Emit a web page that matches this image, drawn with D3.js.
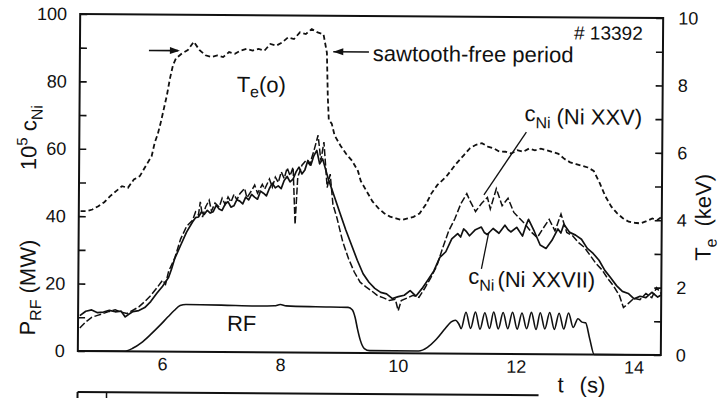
<!DOCTYPE html>
<html>
<head>
<meta charset="utf-8">
<script src="https://cdn.jsdelivr.net/npm/d3@7"></script>
<style>
  body { margin: 0; background: #fff; }
  svg { display: block; }
  text { font-family: "Liberation Sans", Arial, sans-serif; fill: #111; }
</style>
</head>
<body>
<svg id="chart" width="723" height="398"></svg>
<script>
// Shot #13392: nickel concentration from two lines, central Te and RF power vs time

// c_Ni from Ni XXVII (solid), [t (s), 1e5 c_Ni]
const niXXVII = [[4.6,10.5],[4.7,11.8],[4.8,12.2],[4.9,11.4],[5.0,11.6],[5.1,12.1],[5.2,11.7],[5.3,11.9],[5.37,10.2],[5.43,11.0],[5.5,11.8],[5.6,12.1],[5.7,13.0],[5.8,14.8],[5.9,17.2],[6.0,19.4],[6.1,22.0],[6.15,24.5],[6.2,27.5],[6.3,31.5],[6.4,35.5],[6.5,38.5],[6.55,39.8],[6.6,40.0],[6.65,41.5],[6.7,40.8],[6.75,42.0],[6.8,41.2],[6.85,41.6],[6.9,43.5],[6.95,42.4],[7.0,42.0],[7.05,43.8],[7.1,44.6],[7.15,43.0],[7.2,43.4],[7.25,45.2],[7.3,44.8],[7.35,44.0],[7.4,46.0],[7.45,45.2],[7.5,46.8],[7.55,46.0],[7.6,45.4],[7.65,47.8],[7.7,47.2],[7.75,46.4],[7.8,48.6],[7.85,50.2],[7.9,48.8],[7.95,49.4],[8.0,48.6],[8.05,51.0],[8.1,52.2],[8.15,50.6],[8.2,51.4],[8.25,53.6],[8.3,55.0],[8.35,53.0],[8.4,54.2],[8.45,57.0],[8.5,55.6],[8.55,58.4],[8.6,60.0],[8.65,56.0],[8.7,57.5],[8.8,51.5],[8.9,46.5],[9.0,41.5],[9.1,36.5],[9.2,32.0],[9.3,27.5],[9.4,23.5],[9.5,21.0],[9.6,19.2],[9.7,18.0],[9.8,17.6],[9.9,16.2],[10.0,16.8],[10.1,17.2],[10.2,18.6],[10.3,17.0],[10.4,19.2],[10.5,21.8],[10.6,24.5],[10.7,28.5],[10.8,30.2],[10.9,34.0],[11.0,35.6],[11.05,34.6],[11.1,37.0],[11.15,36.2],[11.2,35.0],[11.3,36.8],[11.4,37.6],[11.45,36.0],[11.5,35.4],[11.6,37.2],[11.7,35.8],[11.8,38.2],[11.85,37.0],[11.9,36.2],[12.0,37.6],[12.1,35.0],[12.15,37.8],[12.2,40.0],[12.3,36.4],[12.4,32.4],[12.5,31.4],[12.6,33.8],[12.7,37.2],[12.75,36.0],[12.8,38.6],[12.9,36.2],[13.0,35.4],[13.1,34.2],[13.2,31.5],[13.3,30.0],[13.4,28.0],[13.5,25.0],[13.6,22.8],[13.7,20.5],[13.8,18.8],[13.9,18.2],[14.0,16.6],[14.1,17.4],[14.2,17.0],[14.3,18.6],[14.4,17.2],[14.46,17.8]];

// c_Ni from Ni XXV (dashed), [t (s), 1e5 c_Ni]
const niXXV = [[4.6,6.8],[4.7,8.6],[4.8,10.0],[4.9,10.6],[5.0,11.2],[5.1,11.8],[5.2,12.3],[5.3,11.6],[5.4,11.2],[5.5,12.2],[5.6,13.2],[5.7,14.8],[5.8,16.6],[5.9,18.8],[6.0,21.2],[6.05,20.0],[6.1,23.8],[6.2,27.6],[6.3,33.4],[6.4,37.2],[6.5,39.0],[6.55,41.5],[6.6,40.6],[6.63,44.5],[6.67,40.0],[6.72,43.0],[6.78,45.0],[6.82,41.8],[6.88,44.2],[6.95,43.0],[7.0,45.6],[7.05,43.8],[7.1,46.0],[7.15,44.5],[7.2,46.8],[7.25,45.2],[7.3,47.0],[7.38,48.6],[7.42,45.8],[7.5,48.0],[7.55,49.6],[7.6,47.2],[7.68,49.8],[7.72,48.4],[7.8,51.4],[7.85,49.0],[7.9,52.0],[7.95,50.4],[8.0,53.6],[8.05,51.6],[8.1,54.8],[8.15,52.4],[8.2,55.0],[8.24,38.0],[8.28,52.0],[8.35,55.6],[8.42,57.0],[8.48,55.8],[8.55,59.8],[8.62,64.5],[8.67,57.0],[8.72,62.5],[8.78,49.0],[8.83,53.0],[8.88,44.0],[8.95,40.0],[9.05,33.0],[9.15,28.0],[9.25,24.0],[9.35,21.0],[9.45,19.6],[9.55,18.4],[9.65,17.0],[9.75,16.4],[9.85,15.6],[9.95,16.0],[10.0,12.6],[10.05,15.6],[10.15,16.4],[10.25,17.2],[10.35,16.6],[10.45,19.4],[10.55,22.5],[10.65,26.0],[10.75,31.5],[10.85,36.5],[10.95,40.0],[11.05,44.5],[11.15,47.5],[11.2,45.5],[11.3,42.2],[11.4,44.6],[11.5,46.4],[11.55,43.0],[11.65,49.0],[11.75,44.0],[11.85,46.2],[11.95,42.0],[12.05,40.2],[12.15,38.4],[12.25,36.2],[12.35,34.6],[12.45,37.4],[12.55,40.0],[12.65,36.6],[12.75,41.6],[12.85,36.2],[12.95,35.2],[13.05,33.2],[13.15,31.8],[13.25,29.4],[13.35,27.0],[13.45,25.2],[13.55,22.6],[13.65,20.4],[13.75,17.6],[13.82,14.0],[13.9,15.2],[14.0,16.8],[14.1,16.4],[14.2,18.2],[14.3,17.0],[14.38,20.0],[14.46,18.2]];

// Central electron temperature Te(0), [t (s), keV]
const teCentral = [[4.6,4.15],[4.7,4.15],[4.8,4.2],[4.9,4.3],[5.0,4.42],[5.1,4.6],[5.2,4.75],[5.3,4.9],[5.4,4.85],[5.5,5.1],[5.6,5.2],[5.7,5.5],[5.8,5.8],[5.85,6.2],[5.9,6.45],[5.95,6.8],[6.0,7.2],[6.05,7.6],[6.1,8.1],[6.15,8.5],[6.2,8.7],[6.3,8.85],[6.4,8.95],[6.5,9.2],[6.6,8.95],[6.7,8.8],[6.8,8.75],[6.9,8.8],[7.0,8.75],[7.1,8.9],[7.2,8.85],[7.3,8.95],[7.4,9.0],[7.5,8.95],[7.6,9.0],[7.7,8.95],[7.8,9.15],[7.9,9.1],[8.0,9.2],[8.1,9.35],[8.2,9.3],[8.3,9.5],[8.4,9.45],[8.5,9.6],[8.6,9.5],[8.7,9.45],[8.76,8.9],[8.78,7.6],[8.8,6.9],[8.85,6.8],[8.9,6.45],[9.0,6.15],[9.1,5.9],[9.2,5.7],[9.3,5.4],[9.35,5.1],[9.45,4.8],[9.55,4.5],[9.65,4.3],[9.75,4.15],[9.85,4.05],[9.95,4.0],[10.05,3.95],[10.15,4.0],[10.25,4.05],[10.35,4.15],[10.45,4.4],[10.55,4.75],[10.65,5.0],[10.8,5.25],[10.95,5.6],[11.1,5.9],[11.2,6.1],[11.3,6.2],[11.4,6.25],[11.5,6.15],[11.6,6.1],[11.7,6.0],[11.8,6.0],[11.9,5.95],[12.0,6.05],[12.1,6.0],[12.2,6.1],[12.3,6.05],[12.4,6.1],[12.5,6.05],[12.6,6.0],[12.7,5.95],[12.8,5.8],[12.9,5.7],[13.0,5.65],[13.1,5.6],[13.2,5.55],[13.3,5.45],[13.4,5.1],[13.5,4.7],[13.6,4.4],[13.7,4.2],[13.8,4.05],[13.9,3.95],[14.0,3.92],[14.1,3.9],[14.2,3.97],[14.3,4.05],[14.38,4.0],[14.46,4.1]];

// RF power, [t (s), MW]; modulated between 11 and 13 s
const rfPower = [[4.57,0],[5.35,0],[5.5,0.9],[5.65,2.6],[5.8,5.0],[5.95,7.6],[6.1,10.4],[6.2,12.2],[6.3,13.7],[6.4,14.0],[7.0,13.9],[7.6,13.7],[7.9,13.8],[8.0,14.2],[8.1,13.8],[8.6,13.6],[9.15,13.5],[9.22,12.8],[9.27,10.5],[9.31,7.2],[9.36,3.8],[9.43,1.3],[9.52,0.7],[10.35,0.7],[10.5,1.8],[10.65,4.2],[10.8,7.4],[10.9,9.4],[10.97,9.9],[11.03,8.8],[11.07,7.4],[11.15,12.3],[11.23,7.5],[11.31,12.4],[11.39,7.3],[11.47,12.2],[11.55,7.5],[11.62,12.4],[11.70,7.4],[11.78,12.3],[11.86,7.5],[11.94,12.4],[12.02,7.4],[12.10,12.2],[12.18,7.5],[12.26,12.4],[12.34,7.3],[12.41,12.3],[12.49,7.5],[12.57,12.4],[12.65,7.4],[12.73,12.2],[12.81,7.5],[12.89,12.3],[12.97,8.0],[13.05,10.6],[13.12,9.6],[13.18,9.4],[13.25,4.8],[13.33,0],[14.46,0]];

// Axis ticks and the sawtooth-free interval
const leftTickLabels = [0, 20, 40, 60, 80, 100];
const leftMinorTicks = [10, 30, 50, 70, 90];
const rightTickLabels = [0, 2, 4, 6, 8, 10];
const rightMinorTicks = [1, 3, 5, 7, 9];
const timeTickLabels = [6, 8, 10, 12, 14];
const sawtoothFree = [6.3, 8.8];

const svg = d3.select("#chart");
const frame = { left: 79, right: 662, top: 16, bottom: 353 };

const x = d3.scaleLinear().domain([4.57, 14.46]).range([frame.left, frame.right]);
const yLeft = d3.scaleLinear().domain([0, 100]).range([frame.bottom, frame.top]);
const yRight = d3.scaleLinear().domain([0, 10]).range([frame.bottom, frame.top]);

// the printed page sits slightly skewed
const g = svg.append("g").attr("transform", "rotate(0.4 371 185)");

// frame
g.append("rect")
  .attr("x", frame.left).attr("y", frame.top)
  .attr("width", frame.right - frame.left).attr("height", frame.bottom - frame.top)
  .attr("fill", "none").attr("stroke", "#111").attr("stroke-width", 2);

// left axis: inward ticks every 10, labels every 20
const leftAxis = d3.axisLeft(yLeft).tickValues(leftTickLabels.concat(leftMinorTicks))
  .tickSize(-7).tickPadding(13)
  .tickFormat(d => leftTickLabels.includes(d) ? d : "");
const la = g.append("g").attr("transform", `translate(${frame.left},0)`).call(leftAxis);
la.select(".domain").remove();
la.selectAll("line").attr("stroke", "#111").attr("stroke-width", 1.6);
la.selectAll("text").style("font-size", "18px").attr("fill", "#111");

// right axis (Te): inward ticks every 1 keV, labels every 2
const rightAxis = d3.axisRight(yRight).tickValues(rightTickLabels.concat(rightMinorTicks))
  .tickSize(-7).tickPadding(15)
  .tickFormat(d => rightTickLabels.includes(d) ? d : "");
const ra = g.append("g").attr("transform", `translate(${frame.right},0)`).call(rightAxis);
ra.select(".domain").remove();
ra.selectAll("line").attr("stroke", "#111").attr("stroke-width", 1.6);
ra.selectAll("text").style("font-size", "18px").attr("fill", "#111");

// time axis: labels only
const bottomAxis = d3.axisBottom(x).tickValues(timeTickLabels).tickSize(0).tickPadding(6);
const ba = g.append("g").attr("transform", `translate(0,${frame.bottom})`).call(bottomAxis);
ba.select(".domain").remove();
ba.selectAll("text").style("font-size", "18px").attr("fill", "#111");

// traces
const lineLeft = d3.line().x(d => x(d[0])).y(d => yLeft(d[1]));
const lineTe = d3.line().x(d => x(d[0])).y(d => yRight(d[1]));
const lineRF = d3.line().x(d => x(d[0])).y(d => yLeft(d[1])).curve(d3.curveMonotoneX);

g.append("path").attr("d", lineRF(rfPower))
  .attr("fill", "none").attr("stroke", "#111").attr("stroke-width", 1.6);

g.append("path").attr("d", lineTe(teCentral))
  .attr("fill", "none").attr("stroke", "#111").attr("stroke-width", 1.8)
  .attr("stroke-dasharray", "5,3");

g.append("path").attr("d", lineLeft(niXXV))
  .attr("fill", "none").attr("stroke", "#111").attr("stroke-width", 1.5)
  .attr("stroke-dasharray", "7,2.5");

g.append("path").attr("d", lineLeft(niXXVII))
  .attr("fill", "none").attr("stroke", "#111").attr("stroke-width", 1.7)
  .attr("stroke-linejoin", "round");

// sawtooth-free period arrows
const arrowY = 52;
function arrowHead(tipX, dir) {
  g.append("path")
    .attr("d", `M${tipX},${arrowY} L${tipX - dir * 10},${arrowY - 3.5} L${tipX - dir * 10},${arrowY + 3.5} Z`)
    .attr("fill", "#111");
}
g.append("line").attr("x1", 148).attr("x2", x(sawtoothFree[0]) - 4)
  .attr("y1", arrowY).attr("y2", arrowY).attr("stroke", "#111").attr("stroke-width", 1.6);
arrowHead(x(sawtoothFree[0]) - 2, 1);
g.append("line").attr("x1", x(sawtoothFree[1]) + 4).attr("x2", 368)
  .attr("y1", arrowY).attr("y2", arrowY).attr("stroke", "#111").attr("stroke-width", 1.6);
arrowHead(x(sawtoothFree[1]) + 4, -1);

// annotations
const fs = 22;
g.append("text").attr("x", 372).attr("y", 61).style("font-size", fs + "px").text("sawtooth-free period");
g.append("text").attr("x", 573).attr("y", 38).style("font-size", "19px").text("# 13392");

const teLab = g.append("text").attr("x", 236).attr("y", 93).style("font-size", fs + "px");
teLab.append("tspan").text("T");
teLab.append("tspan").attr("dy", 5).style("font-size", "16px").text("e");
teLab.append("tspan").attr("dy", -5).text("(o)");

const n25 = g.append("text").attr("x", 524).attr("y", 120).style("font-size", fs + "px");
n25.append("tspan").text("c");
n25.append("tspan").attr("dy", 7).style("font-size", "16px").text("Ni");
n25.append("tspan").attr("dy", -4).attr("dx", 6).text("(Ni XXV)");

const n27 = g.append("text").attr("x", 469).attr("y", 283).style("font-size", fs + "px");
n27.append("tspan").text("c");
n27.append("tspan").attr("dy", 7).style("font-size", "16px").text("Ni");
n27.append("tspan").attr("dy", -4).attr("dx", 3).text("(Ni XXVII)");

g.append("text").attr("x", 228).attr("y", 332).style("font-size", fs + "px").text("RF");

// label leaders
g.append("line").attr("x1", 526).attr("y1", 131).attr("x2", 484).attr("y2", 194)
  .attr("stroke", "#111").attr("stroke-width", 1.3);
g.append("line").attr("x1", 482).attr("y1", 268).attr("x2", 489).attr("y2", 232)
  .attr("stroke", "#111").attr("stroke-width", 1.3);

// axis titles
const tTitle = g.append("text").attr("y", 391).style("font-size", fs + "px");
tTitle.append("tspan").attr("x", 559).text("t");
tTitle.append("tspan").attr("x", 581).text("(s)");

const cTitle = g.append("text").attr("transform", "translate(36,140) rotate(-90)")
  .attr("text-anchor", "middle").style("font-size", fs + "px");
cTitle.append("tspan").text("10");
cTitle.append("tspan").attr("dy", -9).style("font-size", "15px").text("5");
cTitle.append("tspan").attr("dy", 9).text(" c");
cTitle.append("tspan").attr("dy", 6).style("font-size", "16px").text("Ni");

const pTitle = g.append("text").attr("transform", "translate(36,290) rotate(-90)")
  .attr("text-anchor", "middle").style("font-size", fs + "px");
pTitle.append("tspan").text("P");
pTitle.append("tspan").attr("dy", 6).style("font-size", "16px").text("RF");
pTitle.append("tspan").attr("dy", -6).attr("dx", 6).text("(MW)");

const teTitle = g.append("text").attr("transform", "translate(711,215) rotate(-90)")
  .attr("text-anchor", "middle").style("font-size", fs + "px");
teTitle.append("tspan").text("T");
teTitle.append("tspan").attr("dy", 6).style("font-size", "16px").text("e");
teTitle.append("tspan").attr("dy", -6).attr("dx", 12).text("(keV)");

// top edge of the panel printed below
g.append("line").attr("x1", frame.left).attr("x2", 540).attr("y1", 394).attr("y2", 394)
  .attr("stroke", "#111").attr("stroke-width", 2);
g.append("line").attr("x1", frame.left).attr("x2", frame.left).attr("y1", 394).attr("y2", 402)
  .attr("stroke", "#111").attr("stroke-width", 2);
g.append("line").attr("x1", 108).attr("x2", 108).attr("y1", 394).attr("y2", 402)
  .attr("stroke", "#111").attr("stroke-width", 1.5);
</script>
</body>
</html>
